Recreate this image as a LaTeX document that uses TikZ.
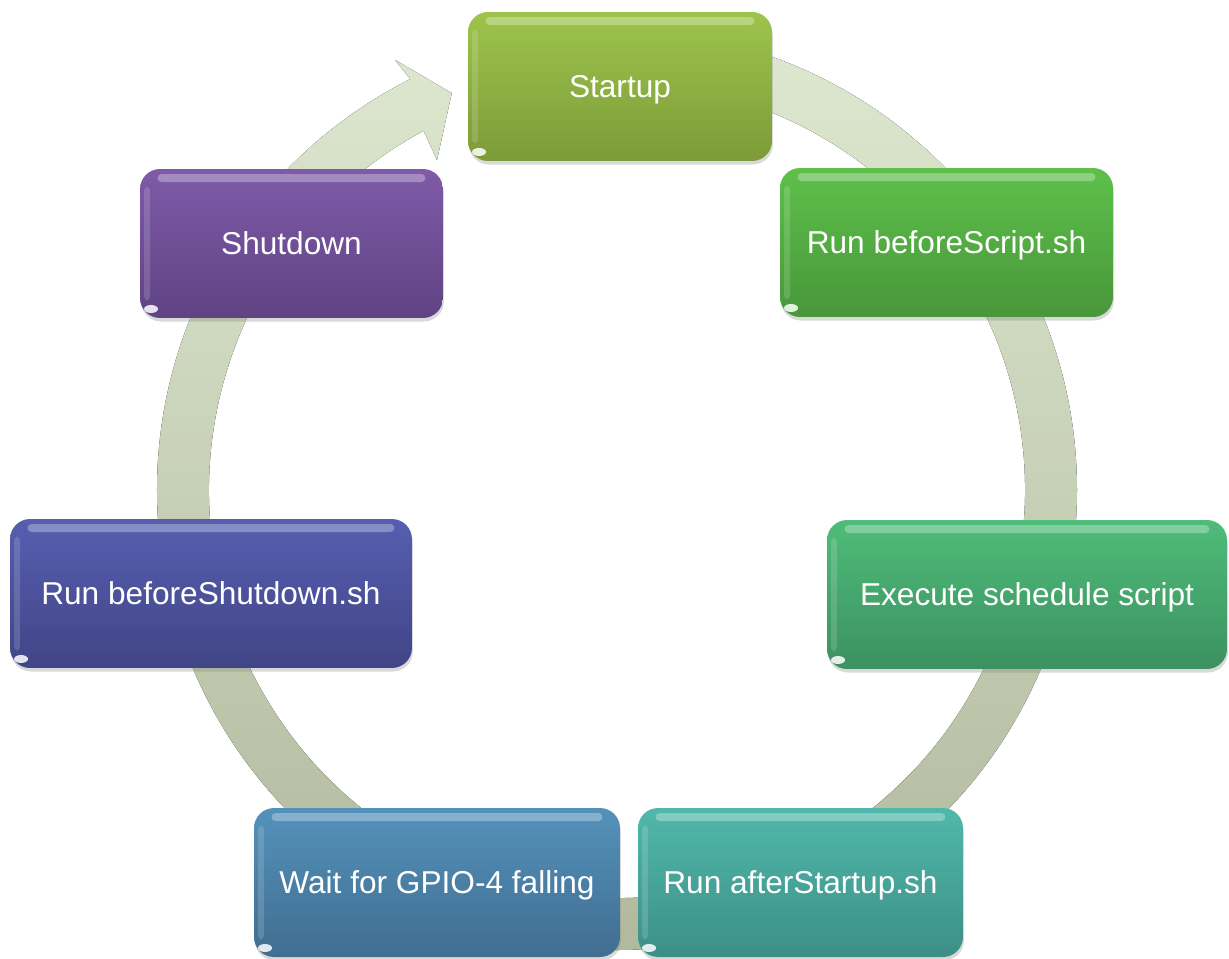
\documentclass[tikz,border=0pt]{standalone}
\usepackage{fontspec}
\setmainfont{Liberation Sans}
\usetikzlibrary{shadows}

\definecolor{ringTop}{HTML}{DEE8D0}
\definecolor{ringBot}{HTML}{B0B99C}
\definecolor{startTop}{HTML}{9EC44C}
\definecolor{startBot}{HTML}{7C9B38}
\definecolor{beforeTop}{HTML}{5EC04B}
\definecolor{beforeBot}{HTML}{48973A}
\definecolor{execTop}{HTML}{4FBC79}
\definecolor{execBot}{HTML}{3C9160}
\definecolor{afterTop}{HTML}{50B8AA}
\definecolor{afterBot}{HTML}{3D8F86}
\definecolor{waitTop}{HTML}{5492BB}
\definecolor{waitBot}{HTML}{416D90}
\definecolor{shutTop}{HTML}{565EAF}
\definecolor{shutBot}{HTML}{414587}
\definecolor{downTop}{HTML}{7F5AA8}
\definecolor{downBot}{HTML}{5F4383}

\tikzset{
	phase/.style n args={2}{rounded corners=0.4cm, top color=#1, bottom color=#2,
		draw=none, minimum height=2.98cm, text=white, inner sep=0pt, text depth=0pt,
		font=\fontsize{18}{21}\selectfont,
		drop shadow={opacity=0.3, shadow xshift=0.5pt, shadow yshift=-2pt},
		path picture={
			\fill[white,opacity=0.3,rounded corners=0.08cm] ([xshift=0.35cm,yshift=-0.1cm]path picture bounding box.north west)
				rectangle ([xshift=-0.35cm,yshift=-0.26cm]path picture bounding box.north east);
			\fill[white,opacity=0.15,rounded corners=0.08cm] ([xshift=0.08cm,yshift=-0.35cm]path picture bounding box.north west)
				rectangle ([xshift=0.2cm,yshift=0.35cm]path picture bounding box.south west);
			\fill[white,opacity=0.85,rotate=45] ([xshift=0.22cm,yshift=0.18cm]path picture bounding box.south west) ellipse (0.14cm and 0.08cm);
		}}
}

\begin{document}
\begin{tikzpicture}[x=0.02cm, y=0.02cm]
	\useasboundingbox (-617,-468) rectangle (612,490);
	% ring with arrow head
	\fill[top color=ringTop, bottom color=ringBot]
		(90:460) arc[start angle=90, end angle=-243.3, radius=460]
		-- (117.3:484) -- (112.6:430) -- (118.6:376) -- (118.3:408)
		arc[start angle=-241.7, end angle=90, radius=408] -- cycle;
	\node[phase={startTop}{startBot}, minimum width=6.08cm] (startup) at (3,403.5) {Startup};
	\node[phase={beforeTop}{beforeBot}, minimum width=6.66cm] (before) at (329.5,247.5) {Run beforeScript.sh};
	\node[phase={execTop}{execBot}, minimum width=8cm] (exec) at (410,-104.5) {Execute schedule script};
	\node[phase={afterTop}{afterBot}, minimum width=6.5cm] (after) at (183.5,-392.5) {Run afterStartup.sh};
	\node[phase={waitTop}{waitBot}, minimum width=7.32cm] (wait) at (-180,-392.5) {Wait for GPIO-4 falling};
	\node[phase={shutTop}{shutBot}, minimum width=8.04cm] (beforeshut) at (-406,-103.5) {Run beforeShutdown.sh};
	\node[phase={downTop}{downBot}, minimum width=6.06cm] (shutdown) at (-325.5,246.5) {Shutdown};
\end{tikzpicture}
\end{document}
